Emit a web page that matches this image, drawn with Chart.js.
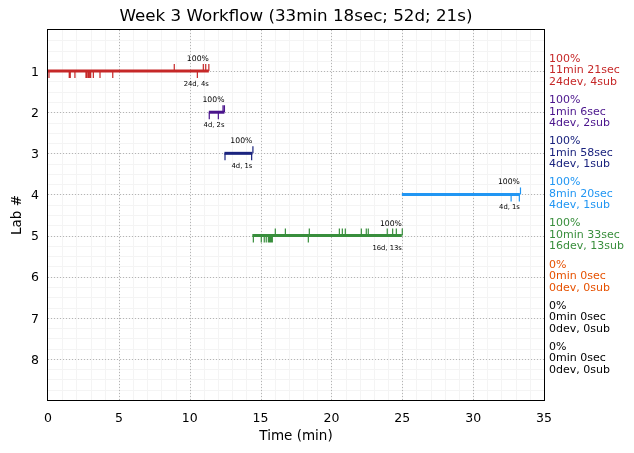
<!DOCTYPE html>
<html>
<head>
<meta charset="utf-8">
<script src="https://cdn.jsdelivr.net/npm/chart.js@4.4.1/dist/chart.umd.min.js"></script>
<style>
  html, body { margin: 0; background: #fff; }
  .wrap { width: 634px; height: 453px; }
</style>
</head>
<body>
<div class="wrap"><canvas id="c"></canvas></div>
<script>
// Week 3 workflow: one bar per lab, dev ticks below the bar, submissions above.
const labs = [1, 2, 3, 4, 5, 6, 7, 8];
const labColors = ['#c62828', '#4a148c', '#1a237e', '#2196f3', '#388e3c', '#e65100', '#000000', '#000000'];
const startMin = [0, 11.35, 12.45, 24.97, 14.42, null, null, null];
const endMin = [11.35, 12.45, 14.42, 33.30, 24.97, null, null, null];
const pctDone = [100, 100, 100, 100, 100, 0, 0, 0];
const durText = ['11min 21sec', '1min 6sec', '1min 58sec', '8min 20sec', '10min 33sec', '0min 0sec', '0min 0sec', '0min 0sec'];
const devCount = [24, 4, 4, 4, 16, 0, 0, 0];
const subCount = [4, 2, 1, 1, 13, 0, 0, 0];
const devTimes = [
  [0.07, 1.5, 1.5, 1.5, 1.57, 1.9, 2.68, 2.68, 2.75, 2.75, 2.85, 2.85, 2.94, 2.94, 3.01, 3.01, 3.2, 3.2, 3.67, 3.67, 4.57, 4.57, 10.54, 10.54],
  [11.38, 11.38, 12.02, 12.02],
  [12.49, 12.49, 14.37, 14.37],
  [32.68, 32.68, 33.26, 33.26],
  [14.49, 15.05, 15.05, 15.26, 15.26, 15.4, 15.4, 15.55, 15.55, 15.62, 15.69, 15.76, 15.83, 15.83, 18.37, 18.37],
  [], [], []
];
const subTimes = [
  [8.91, 10.96, 11.13, 11.35],
  [12.35, 12.45],
  [14.46],
  [33.34],
  [16.04, 16.75, 18.44, 20.56, 20.77, 20.98, 22.11, 22.46, 22.6, 23.94, 24.32, 24.58, 25.0],
  [], [], []
];
const xTicks = [0, 5, 10, 15, 20, 25, 30, 35];
const titleText = 'Week 3 Workflow (33min 18sec; 52d; 21s)';

const FONT = "'DejaVu Sans', sans-serif";
const TICK = 0.17; // tick mark length, in lab units

function segs(times, lab, dir) {
  const out = [];
  times.forEach((t) => {
    out.push({ x: t, y: lab }, { x: t, y: lab + dir * TICK }, { x: t, y: null });
  });
  return out;
}

const datasets = [];
labs.forEach((lab, i) => {
  if (startMin[i] == null) return;
  const base = { borderColor: labColors[i], pointRadius: 0, showLine: true, spanGaps: false, borderCapStyle: 'butt' };
  datasets.push({ ...base, data: [{ x: startMin[i], y: lab }, { x: endMin[i], y: lab }], borderWidth: 3 });
  datasets.push({ ...base, data: segs(devTimes[i], lab, 1), borderWidth: 1.2 });
  datasets.push({ ...base, data: segs(subTimes[i], lab, -1), borderWidth: 1.2 });
});

const crisp = (v) => Math.round(v) + 0.5;

const mplDecor = {
  id: 'mplDecor',
  beforeDatasetsDraw(chart) {
    const { ctx, chartArea: a, scales: { x, y } } = chart;
    ctx.save();
    // minor grid
    ctx.strokeStyle = '#f4f4f4';
    ctx.lineWidth = 1;
    ctx.beginPath();
    for (let v = 1; v < 35; v++) {
      const px = crisp(x.getPixelForValue(v));
      ctx.moveTo(px, a.top); ctx.lineTo(px, a.bottom);
    }
    for (let v = 0.25; v < 9; v += 0.25) {
      const py = crisp(y.getPixelForValue(v));
      ctx.moveTo(a.left, py); ctx.lineTo(a.right, py);
    }
    ctx.stroke();
    // major grid, dotted
    ctx.strokeStyle = '#b4b4b4';
    ctx.setLineDash([1, 2]);
    ctx.beginPath();
    xTicks.slice(1, -1).forEach((v) => {
      const px = crisp(x.getPixelForValue(v));
      ctx.moveTo(px, a.top); ctx.lineTo(px, a.bottom);
    });
    labs.forEach((v) => {
      const py = crisp(y.getPixelForValue(v));
      ctx.moveTo(a.left, py); ctx.lineTo(a.right, py);
    });
    ctx.stroke();
    ctx.restore();
  },
  afterDatasetsDraw(chart) {
    const { ctx, chartArea: a, scales: { x, y } } = chart;
    ctx.save();
    // frame
    ctx.strokeStyle = '#000';
    ctx.lineWidth = 1;
    ctx.strokeRect(crisp(a.left) - 1, crisp(a.top) - 1, Math.round(a.right - a.left) + 1, Math.round(a.bottom - a.top) + 1);

    ctx.textBaseline = 'middle';
    labs.forEach((lab, i) => {
      const py = y.getPixelForValue(lab);
      // small labels at bar end
      if (endMin[i] != null) {
        const ex = x.getPixelForValue(endMin[i]);
        ctx.fillStyle = '#000';
        ctx.textAlign = 'right';
        ctx.font = `7.7px ${FONT}`;
        ctx.fillText(`${pctDone[i]}%`, ex, py - 12);
        ctx.font = `6.8px ${FONT}`;
        ctx.fillText(`${devCount[i]}d, ${subCount[i]}s`, ex, py + 13);
      }
      // summary text right of the plot
      ctx.fillStyle = labColors[i];
      ctx.textAlign = 'left';
      ctx.font = `11px ${FONT}`;
      const lines = [`${pctDone[i]}%`, durText[i], `${devCount[i]}dev, ${subCount[i]}sub`];
      lines.forEach((s, k) => ctx.fillText(s, a.right + 5, py - 12 + k * 11.5));
    });

    // title and axis titles
    ctx.fillStyle = '#000';
    ctx.textAlign = 'center';
    ctx.font = `16.7px ${FONT}`;
    ctx.fillText(titleText, (a.left + a.right) / 2, 17);
    ctx.font = `13.5px ${FONT}`;
    ctx.fillText('Time (min)', (a.left + a.right) / 2, 436);
    ctx.translate(17, (a.top + a.bottom) / 2);
    ctx.rotate(-Math.PI / 2);
    ctx.fillText('Lab #', 0, 0);
    ctx.restore();
  }
};

new Chart(document.getElementById('c'), {
  type: 'scatter',
  data: { datasets },
  plugins: [mplDecor],
  options: {
    responsive: true,
    maintainAspectRatio: false,
    animation: false,
    devicePixelRatio: 1,
    layout: { padding: { left: 0, right: 90, top: 30, bottom: 0 } },
    plugins: {
      legend: { display: false },
      tooltip: { enabled: false },
      title: { display: false }
    },
    scales: {
      x: {
        type: 'linear', min: 0, max: 35,
        afterBuildTicks: (s) => { s.ticks = xTicks.map((v) => ({ value: v })); },
        afterFit: (s) => { s.height = 53; },
        grid: { display: false, drawTicks: false },
        border: { display: false },
        ticks: { color: '#000', padding: 11, maxRotation: 0, font: { family: FONT, size: 12.5 } }
      },
      y: {
        type: 'linear', min: 0, max: 9, reverse: true,
        afterBuildTicks: (s) => { s.ticks = labs.map((v) => ({ value: v })); },
        afterFit: (s) => { s.width = 48; },
        grid: { display: false, drawTicks: false },
        border: { display: false },
        ticks: { color: '#000', padding: 9, labelOffset: 1.5, font: { family: FONT, size: 12.5 } }
      }
    }
  }
});
</script>
</body>
</html>
